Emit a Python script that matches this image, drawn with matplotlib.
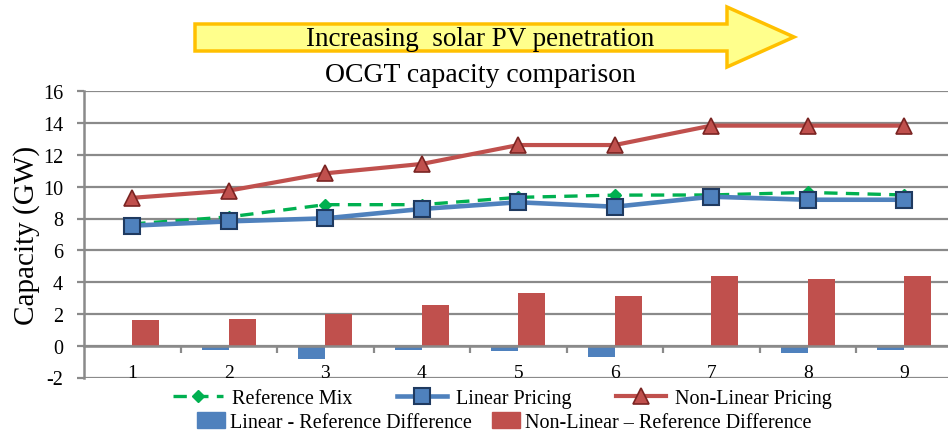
import matplotlib
matplotlib.use("Agg")
import matplotlib.pyplot as plt
from matplotlib.patches import Polygon, Patch
from matplotlib.ticker import FixedLocator

plt.rcParams['font.family'] = ['Liberation Serif', 'DejaVu Serif']

# Scenario index (increasing solar PV penetration)
categories = [1, 2, 3, 4, 5, 6, 7, 8, 9]
reference_mix = [7.66, 8.10, 8.87, 8.87, 9.33, 9.47, 9.48, 9.64, 9.48]
linear_pricing = [7.55, 7.82, 8.01, 8.60, 9.02, 8.74, 9.37, 9.18, 9.18]
nonlinear_pricing = [9.30, 9.75, 10.84, 11.43, 12.62, 12.62, 13.84, 13.84, 13.84]
linear_diff = [-0.10, -0.28, -0.86, -0.27, -0.31, -0.73, -0.11, -0.46, -0.30]
nonlinear_diff = [1.64, 1.65, 1.97, 2.56, 3.29, 3.15, 4.36, 4.20, 4.36]
yticks = [-2, 0, 2, 4, 6, 8, 10, 12, 14, 16]

W, H = 948, 439
fig = plt.figure(figsize=(W / 100, H / 100), dpi=100)

ax_left, ax_right = 84 / W, 952.5 / W
ax_top, ax_bot = (H - 92.3) / H, (H - 378.5) / H
ax = fig.add_axes([ax_left, ax_bot, ax_right - ax_left, ax_top - ax_bot])

grid_c = '#8a8a8a'
blue = '#4F81BD'
red = '#C0504D'
green = '#00B050'

ax.set_xlim(0.5, 9.5)
ax.set_ylim(-2, 16)
ax.set_yticks(yticks)
ax.set_yticklabels([str(v) for v in yticks])
for y in yticks:
    ax.axhline(y, color=grid_c, lw=1.6, zorder=0)

for s in ['top', 'right']:
    ax.spines[s].set_visible(False)
ax.spines['left'].set_color(grid_c)
ax.spines['left'].set_linewidth(1.8)
ax.spines['bottom'].set_position(('data', 0))
ax.spines['bottom'].set_color(grid_c)
ax.spines['bottom'].set_linewidth(1.8)

ax.tick_params(axis='y', length=5, width=1.6, color=grid_c, labelsize=14.5, pad=10)
ax.set_xticks(categories)
ax.set_xticklabels([str(c) for c in categories])
ax.tick_params(axis='x', which='major', length=0, labelsize=14, pad=13)
ax.xaxis.set_minor_locator(FixedLocator([c + 0.5 for c in categories]))
ax.tick_params(axis='x', which='minor', length=5, width=1.6, color=grid_c, direction='out')

bw = 0.28
ax.bar([c - bw / 2 for c in categories], linear_diff, width=bw, color=blue, zorder=2)
ax.bar([c + bw / 2 for c in categories], nonlinear_diff, width=bw, color=red, zorder=2)

l_nl, = ax.plot(categories, nonlinear_pricing, color=red, lw=3.0, marker='^', ms=12,
                mfc=red, mec='#7a2422', mew=1.2, zorder=4, label='Non-Linear Pricing')
l_lin, = ax.plot(categories, linear_pricing, color=blue, lw=3.3, marker='s', ms=12,
                 mfc=blue, mec='#1f3a60', mew=1.5, zorder=5, label='Linear Pricing')
l_ref, = ax.plot(categories, reference_mix, color=green, lw=2.4, ls=(0, (4, 2.5)), marker='D',
                 ms=6, mfc=green, mec=green, zorder=3, label='Reference Mix')

ax.set_ylabel('Capacity (GW)', fontsize=21, labelpad=2)

# Legend rows
leg1 = fig.legend(handles=[l_ref, l_lin, l_nl], loc='center', bbox_to_anchor=(0.530, 40 / H),
                  ncol=3, frameon=False, fontsize=14.5, handlelength=2.5, handletextpad=0.45,
                  columnspacing=2.2, borderpad=0)
leg2 = fig.legend(handles=[Patch(color=blue), Patch(color=red)],
                  labels=['Linear - Reference Difference', 'Non-Linear \u2013 Reference Difference'],
                  loc='center', bbox_to_anchor=(0.532, 16 / H), ncol=2, frameon=False,
                  fontsize=14.5, handlelength=1.4, handleheight=0.85, handletextpad=0.25,
                  columnspacing=1.0, borderpad=0)

# Title and penetration arrow
fig.text(480 / W, 1 - 76 / H, 'OCGT capacity comparison', ha='center', va='center', fontsize=20)

pts = [(195, 25), (727, 25), (727, 8), (794, 38), (727, 68), (727, 52), (195, 52)]
arrow = Polygon([(x / W, 1 - y / H) for x, y in pts], closed=True, transform=fig.transFigure,
                facecolor='#FFFF8C', edgecolor='#FFC000', lw=2.5, zorder=1)
fig.patches.append(arrow)
fig.text(480 / W, 1 - 39 / H, 'Increasing  solar PV penetration', ha='center', va='center',
         fontsize=19.5, zorder=2)

fig.savefig('out.png', dpi=100)
